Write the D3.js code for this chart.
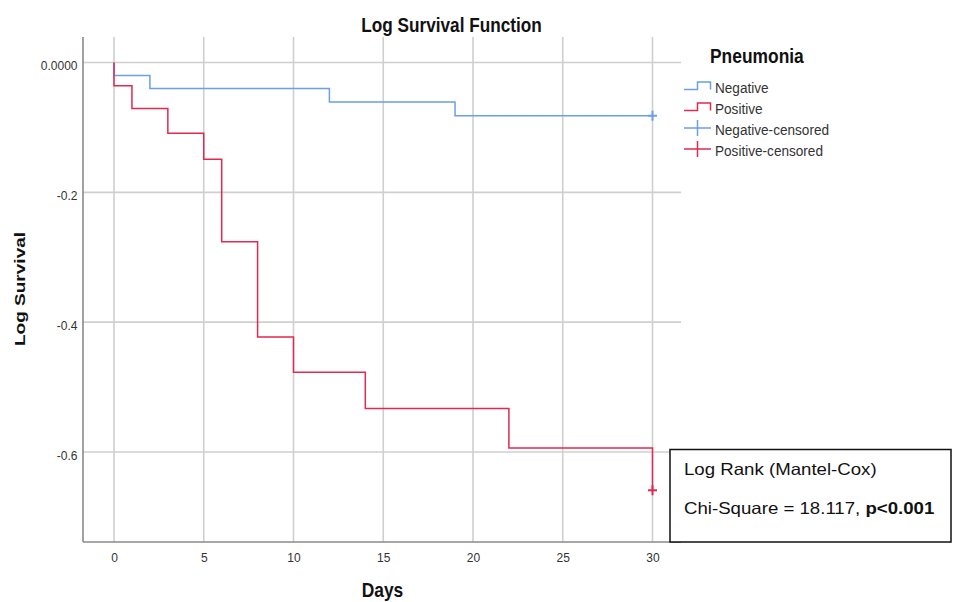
<!DOCTYPE html>
<html>
<head>
<meta charset="utf-8">
<script src="https://cdn.jsdelivr.net/npm/d3@7"></script>
<style>
  html, body { margin: 0; padding: 0; background: #fff; }
  svg { display: block; font-family: "Liberation Sans", Arial, sans-serif; }
</style>
</head>
<body>
<svg id="chart" width="953" height="602"></svg>
<script>
// ---- data ----
const xTicks = [0, 5, 10, 15, 20, 25, 30];
const xTickLabels = ["0", "5", "10", "15", "20", "25", "30"];
const yTicks = [0, -0.2, -0.4, -0.6];
const yTickLabels = ["0.0000", "-0.2", "-0.4", "-0.6"];

const negDays    = [0, 0, 2, 12, 19, 30];
const negLogSurv = [0, -0.020, -0.040, -0.061, -0.082, -0.082];
const posDays    = [0, 0, 1, 3, 5, 6, 8, 10, 14, 22, 30];
const posLogSurv = [0, -0.036, -0.071, -0.109, -0.149, -0.276, -0.423, -0.477, -0.533, -0.594, -0.659];

const censorDays   = [30, 30];
const censorValues = [-0.082, -0.659];
const censorGroup  = ["Negative", "Positive"];

const legendLabels = ["Negative", "Positive", "Negative-censored", "Positive-censored"];
const legendKinds  = ["step", "step", "cross", "cross"];
const legendGroup  = ["Negative", "Positive", "Negative", "Positive"];

const titleText = "Log Survival Function";
const xLabel = "Days";
const yLabel = "Log Survival";
const legendTitle = "Pneumonia";
const statLine1 = "Log Rank (Mantel-Cox)";
const statLine2a = "Chi-Square = 18.117, ";
const statLine2b = "p<0.001";

// ---- layout / style ----
const colors = { Negative: "#6b9fe6", Positive: "#e2294f" };
const frame = { left: 83, top: 37, right: 681, bottom: 542 };
const FONT = '"Liberation Sans", Arial, sans-serif';

const svg = d3.select("#chart");

const x = d3.scaleLinear().domain([0, 30]).range([114, 652.5]);
const y = d3.scaleLinear().domain([0, -0.6]).range([62.5, 452]);

// grid lines
const grid = svg.append("g");
grid.selectAll("line.v").data(xTicks).join("line")
  .attr("x1", d => x(d)).attr("x2", d => x(d))
  .attr("y1", frame.top).attr("y2", frame.bottom)
  .attr("stroke", "#cfcfcf").attr("stroke-width", 1.6);
grid.selectAll("line.h").data(yTicks).join("line")
  .attr("x1", frame.left).attr("x2", frame.right)
  .attr("y1", d => y(d)).attr("y2", d => y(d))
  .attr("stroke", "#cfcfcf").attr("stroke-width", 1.6);

// axis lines
svg.append("line").attr("x1", frame.left).attr("x2", frame.left)
  .attr("y1", frame.top).attr("y2", frame.bottom)
  .attr("stroke", "#8a8a8a").attr("stroke-width", 1.6);
svg.append("line").attr("x1", frame.left).attr("x2", frame.right)
  .attr("y1", frame.bottom).attr("y2", frame.bottom)
  .attr("stroke", "#8a8a8a").attr("stroke-width", 1.6);

// axes (labels only)
const xAxis = svg.append("g").attr("transform", `translate(0,${frame.bottom})`)
  .call(d3.axisBottom(x).tickValues(xTicks).tickSize(0).tickPadding(11.5)
        .tickFormat((d, i) => xTickLabels[i]));
xAxis.select(".domain").remove();
xAxis.selectAll("text").attr("font-size", 12).attr("font-family", FONT).attr("fill", "#333");

const yAxis = svg.append("g").attr("transform", `translate(${frame.left},0)`)
  .call(d3.axisLeft(y).tickValues(yTicks).tickSize(0).tickPadding(5.5)
        .tickFormat((d, i) => yTickLabels[i]));
yAxis.select(".domain").remove();
yAxis.selectAll("text").attr("font-size", 12).attr("font-family", FONT)
  .attr("fill", "#333").attr("dy", "0.6em");

// survival step lines
const line = d3.line().x(d => x(d[0])).y(d => y(d[1])).curve(d3.curveStepAfter);
const negPts = negDays.map((d, i) => [d, negLogSurv[i]]);
const posPts = posDays.map((d, i) => [d, posLogSurv[i]]);

svg.append("path").datum(negPts).attr("d", line)
  .attr("fill", "none").attr("stroke", colors.Negative).attr("stroke-width", 1.5);
svg.append("path").datum(posPts).attr("d", line)
  .attr("fill", "none").attr("stroke", colors.Positive).attr("stroke-width", 1.5);

// censor marks
const cens = svg.append("g").selectAll("g").data(censorDays).join("g")
  .attr("transform", (d, i) => `translate(${x(d)},${y(censorValues[i])})`);
cens.append("line").attr("x1", -4.5).attr("x2", 4.5).attr("y1", 0).attr("y2", 0)
  .attr("stroke", (d, i) => colors[censorGroup[i]]).attr("stroke-width", 2);
cens.append("line").attr("x1", 0).attr("x2", 0).attr("y1", -5).attr("y2", 5)
  .attr("stroke", (d, i) => colors[censorGroup[i]]).attr("stroke-width", 2);

// title & axis labels (source image is slightly stretched vertically)
svg.append("text").attr("transform", "translate(451.5,31.5) scale(1,1.2)")
  .attr("text-anchor", "middle").attr("font-size", 17.2).attr("font-weight", "bold")
  .attr("font-family", FONT).attr("fill", "#111").text(titleText);

svg.append("text").attr("transform", "translate(382.5,596.5) scale(1,1.2)")
  .attr("text-anchor", "middle").attr("font-size", 17.4).attr("font-weight", "bold")
  .attr("font-family", FONT).attr("fill", "#111").text(xLabel);

svg.append("text").attr("transform", "translate(24.5,289) rotate(-90) scale(1.27,1)")
  .attr("text-anchor", "middle").attr("font-size", 15).attr("font-weight", "bold")
  .attr("font-family", FONT).attr("fill", "#111").text(yLabel);

// legend
svg.append("text").attr("transform", "translate(710,63) scale(1,1.15)")
  .attr("font-size", 17.4).attr("font-weight", "bold")
  .attr("font-family", FONT).attr("fill", "#111").text(legendTitle);

const legRows = svg.append("g").selectAll("g").data(legendLabels).join("g")
  .attr("transform", (d, i) => `translate(684,${86 + i * 21})`);
legRows.each(function(d, i) {
  const g = d3.select(this);
  const c = colors[legendGroup[i]];
  if (legendKinds[i] === "step") {
    g.append("path").attr("d", "M0,3.5 H13.5 V-4 H26.5 V3.5")
      .attr("fill", "none").attr("stroke", c).attr("stroke-width", 1.5);
  } else {
    g.append("line").attr("x1", 0).attr("x2", 27).attr("y1", 0).attr("y2", 0)
      .attr("stroke", c).attr("stroke-width", 1.5);
    g.append("line").attr("x1", 13.5).attr("x2", 13.5).attr("y1", -8).attr("y2", 8)
      .attr("stroke", c).attr("stroke-width", 1.5);
  }
  g.append("text").attr("transform", "translate(31,6.5) scale(1,1.1)").attr("font-size", 13.6)
    .attr("font-family", FONT).attr("fill", "#333").text(d);
});

// statistics box
svg.append("rect").attr("x", 670).attr("y", 449.5).attr("width", 281).attr("height", 92.5)
  .attr("fill", "#fff").attr("stroke", "#111").attr("stroke-width", 1.5);
svg.append("text").attr("transform", "translate(684,474.5) scale(1.13,1)")
  .attr("font-size", 16.5).attr("font-family", FONT).attr("fill", "#111").text(statLine1);
const t2 = svg.append("text").attr("transform", "translate(684,513.5) scale(1.13,1)")
  .attr("font-size", 16.5).attr("font-family", FONT).attr("fill", "#111");
t2.append("tspan").text(statLine2a);
t2.append("tspan").attr("font-weight", "bold").text(statLine2b);
</script>
</body>
</html>
